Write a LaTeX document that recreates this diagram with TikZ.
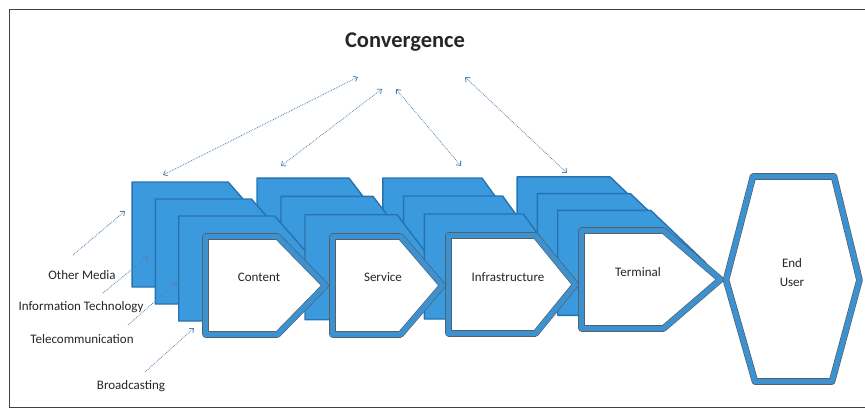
\documentclass[tikz,border=0pt]{standalone}
\usepackage{fontspec}
\setmainfont{Carlito}
\usetikzlibrary{arrows.meta}

\definecolor{layerblue}{RGB}{59,153,222}
\definecolor{layeredge}{RGB}{40,115,175}
\definecolor{frontblue}{RGB}{60,145,208}
\definecolor{linkgray}{RGB}{85,130,175}

\tikzset{
  backlayer/.style={fill=layerblue, draw=layeredge, line width=1.4pt, line join=round},
  frontlayer/.style={fill=white, draw=black!65, double=frontblue, double distance=5.4pt, line width=0.6pt, line join=round},
  link/.style={densely dotted, linkgray, line width=0.8pt, >={Straight Barb[length=3.5pt,width=6pt]}},
  blocktext/.style={font=\fontsize{13}{19}\selectfont, text=black!85},
  sidetext/.style={font=\fontsize{13}{15}\selectfont, text=black!85},
}

% left, top, width, height, tip depth
\newcommand{\homeplate}[6]{%
  \draw[#1] (#2,#3) -- ({#2+#4-#6},#3) -- ({#2+#4},{#3+#5/2}) -- ({#2+#4-#6},{#3+#5}) -- (#2,{#3+#5}) -- cycle;
}

\begin{document}
\begin{tikzpicture}[x=1pt, y=-1pt]
  \useasboundingbox (0,0) rectangle (865,412);

  % Frame
  \draw[black!75, line width=1pt] (866,10) -- (9,10) -- (9,407) -- (866,407);

  % Title
  \node[font=\fontsize{22.5}{26}\selectfont\bfseries, text=black!85] (title) at (405,42) {Convergence};

  % Stacked layers behind each block
  \foreach \k in {3,2,1} {
    \foreach \L/\T/\W/\D/\sx/\sy/\ex in {202/233/126/46/23.3/17/16,
                                         329/233/116/40/24/18.3/16,
                                         445/232/133/38/20.7/18/4,
                                         578/227/145/55/20.3/16.7/3} {
      \homeplate{backlayer}{\L-\k*\sx}{\T-\k*\sy}{\W+\ex}{105}{\D}
    }
  }

  % Front blocks
  \foreach \L/\T/\W/\D in {202/233/126/46, 329/233/116/40, 445/232/133/38, 578/227/145/55} {
    \homeplate{frontlayer}{\L+3.5}{\T+3.5}{\W-6}{98}{\D-2}
  }

  % End user
  \draw[frontlayer] (726,280) -- (753,176.5) -- (834,176.5) -- (859.5,280) -- (832,381.5) -- (755,381.5) -- cycle;

  % Block labels
  \node[blocktext] (content) at (259,277) {Content};
  \node[blocktext] (service) at (383,277) {Service};
  \node[blocktext] (infra) at (508,277) {Infrastructure};
  \node[blocktext] (terminal) at (638,272) {Terminal};
  \node[blocktext, align=center] (enduser) at (792,273) {End\\User};

  % Sector labels
  \node[sidetext] (othermedia) at (82,275) {Other Media};
  \node[sidetext] (infotech) at (81,307) {Information Technology};
  \node[sidetext] (telecom) at (82,339) {Telecommunication};
  \node[sidetext] (broadcast) at (131,386) {Broadcasting};

  % Arrow ends
  \coordinate (conv1) at (358,77);
  \coordinate (conv2) at (382,89);
  \coordinate (conv3) at (396,89);
  \coordinate (conv4) at (465,77);
  \coordinate (stack1) at (163,175);
  \coordinate (stack2) at (281,166);
  \coordinate (stack3) at (461,166);
  \coordinate (stack4) at (567,173);
  \coordinate (om) at (73,255);
  \coordinate (it) at (103,293);
  \coordinate (tc) at (128,325);
  \coordinate (bc) at (145,372);
  \coordinate (omend) at (125,211);
  \coordinate (itend) at (148,256);
  \coordinate (tcend) at (177,282);
  \coordinate (bcend) at (194,328);

  % Convergence links
  \draw[link, <->] (stack1) -- (conv1);
  \draw[link, <->] (stack2) -- (conv2);
  \draw[link, <->] (stack3) -- (conv3);
  \draw[link, <->] (stack4) -- (conv4);

  % Sector pointers
  \draw[link, ->] (om) -- (omend);
  \draw[link, ->] (it) -- (itend);
  \draw[link, ->] (tc) -- (tcend);
  \draw[link, ->] (bc) -- (bcend);
\end{tikzpicture}
\end{document}
